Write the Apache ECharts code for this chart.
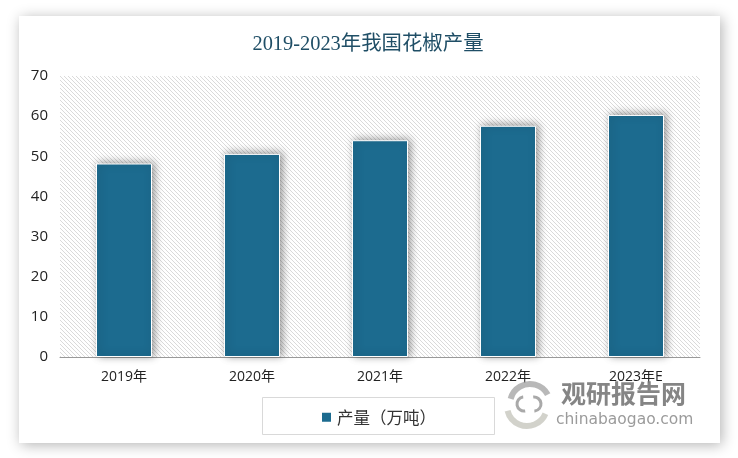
<!DOCTYPE html>
<html>
<head>
<meta charset="utf-8">
<title>2019-2023年我国花椒产量</title>
<script src="https://cdn.jsdelivr.net/npm/echarts@6/dist/echarts.min.js"></script>
<style>
html,body{margin:0;padding:0;background:#fff;}
#chart{width:738px;height:458px;}
</style>
</head>
<body>
<div id="chart"></div>
<script>
var categories = ['2019年', '2020年', '2021年', '2022年', '2023年E'];
var outputValues = [48.2, 50.6, 54, 57.6, 60.3];
var seriesName = '产量（万吨）';
var titleText = '2019-2023年我国花椒产量';

// diagonal hatch for the plot background
function hatchTile() {
	var c = document.createElement('canvas');
	c.width = 4; c.height = 4;
	var ctx = c.getContext('2d');
	ctx.fillStyle = '#fff';
	ctx.fillRect(0, 0, 4, 4);
	ctx.strokeStyle = '#d6d6d6';
	ctx.lineWidth = 0.9;
	ctx.beginPath();
	ctx.moveTo(-1, -1); ctx.lineTo(5, 5);
	ctx.moveTo(-3, 1); ctx.lineTo(1, 5);
	ctx.moveTo(3, -1); ctx.lineTo(5, 1);
	ctx.stroke();
	return c;
}

var myChart = echarts.init(document.getElementById('chart'), null, {renderer: 'canvas'});
var option = {
	animation: false,
	backgroundColor: '#fff',
	title: {
		text: titleText,
		left: 363, top: 29, textAlign: 'center',
		textStyle: {color: '#1f4e66', fontSize: 20.4, fontWeight: 'normal', fontFamily: '"Liberation Serif", "Noto Sans CJK SC"'}
	},
	grid: {
		left: 60, right: 38, top: 76, bottom: 101,
		show: true,
		borderWidth: 0,
		backgroundColor: {image: hatchTile(), repeat: 'repeat'}
	},
	legend: {
		data: [seriesName],
		left: 315, top: 404,
		itemWidth: 11, itemHeight: 11, itemGap: 6,
		icon: 'rect',
		textStyle: {color: '#333', fontSize: 16.5, fontFamily: '"Noto Sans CJK SC"'}
	},
	xAxis: {
		type: 'category',
		data: categories,
		axisTick: {show: false},
		axisLine: {lineStyle: {color: '#999', width: 1}},
		axisLabel: {color: '#222', fontSize: 14, margin: 13, fontFamily: '"Open Sans", "Noto Sans CJK SC"'}
	},
	yAxis: {
		type: 'value',
		min: 0, max: 70, interval: 10,
		splitLine: {show: false},
		axisLine: {show: false},
		axisTick: {show: false},
		axisLabel: {color: '#222', fontSize: 15, margin: 12, padding: [3, 0, 0, 0], fontFamily: '"Open Sans"'}
	},
	series: [{
		name: seriesName,
		type: 'bar',
		data: outputValues,
		barWidth: 56,
		itemStyle: {
			color: '#1c6b8f',
			borderColor: '#fff',
			borderWidth: 1,
			shadowColor: 'rgba(0,0,0,0.4)',
			shadowBlur: 8,
			shadowOffsetX: 2,
			shadowOffsetY: -1
		}
	}],
	graphic: [
		{
			type: 'rect', z: -10, silent: true,
			shape: {x: 19, y: 16, width: 701, height: 427},
			style: {fill: '#fff', shadowColor: 'rgba(0,0,0,0.3)', shadowBlur: 13, shadowOffsetX: 2, shadowOffsetY: 2}
		},
		{
			type: 'rect', z: 1, silent: true,
			shape: {x: 262.5, y: 397.5, width: 232, height: 37},
			style: {fill: 'none', stroke: '#d9d9d9', lineWidth: 1}
		},
		// watermark
		{
			type: 'text', z: 50, silent: true, x: 561, y: 381,
			style: {text: '观研报告网', fill: 'rgba(120,120,120,0.9)', font: 'bold 25px "Noto Sans CJK SC"'}
		},
		{
			type: 'text', z: 50, silent: true, x: 556, y: 412,
			style: {text: 'chinabaogao.com', fill: 'rgba(130,130,130,0.8)', font: '15.5px "DejaVu Sans"'}
		},
		{
			type: 'arc', z: 50, silent: true,
			shape: {cx: 530, cy: 404, r: 20, startAngle: 3.4, endAngle: 5.8},
			style: {fill: 'none', stroke: 'rgba(160,160,160,0.75)', lineWidth: 6}
		},
		{
			type: 'arc', z: 50, silent: true,
			shape: {cx: 527, cy: 406, r: 20, startAngle: 0.4, endAngle: 2.9},
			style: {fill: 'none', stroke: 'rgba(195,195,185,0.75)', lineWidth: 6}
		},
		{
			type: 'arc', z: 50, silent: true,
			shape: {cx: 524, cy: 404, r: 7, startAngle: 1.4, endAngle: 4.6},
			style: {fill: 'none', stroke: 'rgba(140,140,140,0.75)', lineWidth: 3}
		},
		{
			type: 'arc', z: 50, silent: true,
			shape: {cx: 534, cy: 404, r: 7, startAngle: 4.6, endAngle: 7.8},
			style: {fill: 'none', stroke: 'rgba(140,140,140,0.75)', lineWidth: 3}
		}
	]
};
myChart.setOption(option);
</script>
</body>
</html>
